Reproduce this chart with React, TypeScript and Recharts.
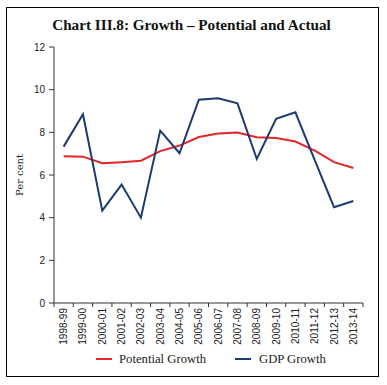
import React from "react";
import { LineChart, Line, XAxis, YAxis } from "recharts";

const years = [
  "1998-99", "1999-00", "2000-01", "2001-02", "2002-03", "2003-04", "2004-05", "2005-06",
  "2006-07", "2007-08", "2008-09", "2009-10", "2010-11", "2011-12", "2012-13", "2013-14",
];
const potentialGrowth = [6.88, 6.86, 6.55, 6.6, 6.67, 7.12, 7.38, 7.78, 7.94, 7.99, 7.77, 7.73, 7.57, 7.14, 6.6, 6.33];
const gdpGrowth = [7.33, 8.85, 4.33, 5.55, 4.0, 8.08, 7.02, 9.53, 9.6, 9.36, 6.75, 8.63, 8.94, 6.7, 4.49, 4.78];
const yTicks = [0, 2, 4, 6, 8, 10, 12];
const seriesNames = ["Potential Growth", "GDP Growth"];

const RED = "#e3262a";
const BLUE = "#1c3a72";
const AXIS = "#333";

const W = 387;
const H = 385;
const xAxisHeight = 30;
const margin = { top: 47, right: 24, bottom: 82 - xAxisHeight, left: 0 };
const yAxisWidth = 54;
const plotW = W - margin.left - margin.right - yAxisWidth;
const band = plotW / years.length;

const data = years.map((year, i) => ({
  year,
  potential: potentialGrowth[i],
  gdp: gdpGrowth[i],
}));

// labels sit in the middle of each year, tick marks at the year boundaries
function YearTick(props: any) {
  const { x, y, payload, index } = props;
  const axisY = y - 5;
  return (
    <g>
      <line x1={x - band / 2} y1={axisY} x2={x - band / 2} y2={axisY + 4} stroke={AXIS} />
      {index === years.length - 1 && (
        <line x1={x + band / 2} y1={axisY} x2={x + band / 2} y2={axisY + 4} stroke={AXIS} />
      )}
      <text
        x={x}
        y={y}
        dy="0.35em"
        transform={`rotate(-90, ${x}, ${y})`}
        textAnchor="end"
        fontSize={10}
        fontFamily="'Liberation Sans', Arial, sans-serif"
        fill="#222"
      >
        {payload.value}
      </text>
    </g>
  );
}

function PerCentLabel(props: any) {
  const { viewBox } = props;
  const cx = viewBox.x + 19.5;
  const cy = viewBox.y + viewBox.height / 2;
  return (
    <text
      x={cx}
      y={cy}
      dy="0.35em"
      transform={`rotate(-90, ${cx}, ${cy})`}
      textAnchor="middle"
      fontSize={10}
      fontFamily="'DejaVu Serif', serif"
      fill="#222"
    >
      Per cent
    </text>
  );
}

export default function App() {
  const legendText: React.CSSProperties = {
    fontFamily: "'Liberation Serif', 'Times New Roman', serif",
    fontSize: 12.7,
    color: "#222",
    lineHeight: "14px",
    whiteSpace: "nowrap",
  };
  return (
    <div style={{ position: "absolute", left: 0, top: 0, width: W, height: H, background: "#fff" }}>
      <div
        style={{
          position: "absolute",
          left: 6,
          top: 7,
          width: 373,
          height: 370,
          border: "1px solid #000",
          boxSizing: "border-box",
        }}
      />
      <div
        style={{
          position: "absolute",
          left: 0,
          top: 17,
          width: 383,
          textAlign: "center",
          fontFamily: "'Liberation Serif', 'Times New Roman', serif",
          fontWeight: "bold",
          fontSize: 15.2,
          lineHeight: "15px",
          color: "#111",
          whiteSpace: "nowrap",
        }}
      >
        Chart III.8: Growth – Potential and Actual
      </div>
      <div style={{ position: "absolute", left: 0, top: 0 }}>
        <LineChart width={W} height={H} data={data} margin={margin}>
          <XAxis
            dataKey="year"
            interval={0}
            height={xAxisHeight}
            padding={{ left: band / 2, right: band / 2 }}
            stroke={AXIS}
            tickLine={false}
            tickSize={4}
            tickMargin={1}
            tick={<YearTick />}
          />
          <YAxis
            domain={[0, 12]}
            ticks={yTicks}
            width={yAxisWidth}
            stroke={AXIS}
            tickSize={5}
            tickMargin={4}
            tick={{ fontSize: 10, fill: "#222", fontFamily: "'Liberation Sans', Arial, sans-serif" }}
            label={<PerCentLabel />}
          />
          <Line
            dataKey="potential"
            name={seriesNames[0]}
            stroke={RED}
            strokeWidth={2}
            dot={false}
            type="linear"
            isAnimationActive={false}
          />
          <Line
            dataKey="gdp"
            name={seriesNames[1]}
            stroke={BLUE}
            strokeWidth={2}
            dot={false}
            type="linear"
            isAnimationActive={false}
          />
        </LineChart>
      </div>
      <div style={{ position: "absolute", left: 96, top: 352, display: "flex", alignItems: "center" }}>
        <span style={{ width: 16, height: 2, background: RED, marginRight: 7 }} />
        <span style={legendText}>{seriesNames[0]}</span>
      </div>
      <div style={{ position: "absolute", left: 235, top: 352, display: "flex", alignItems: "center" }}>
        <span style={{ width: 16, height: 2, background: BLUE, marginRight: 8 }} />
        <span style={legendText}>{seriesNames[1]}</span>
      </div>
    </div>
  );
}
